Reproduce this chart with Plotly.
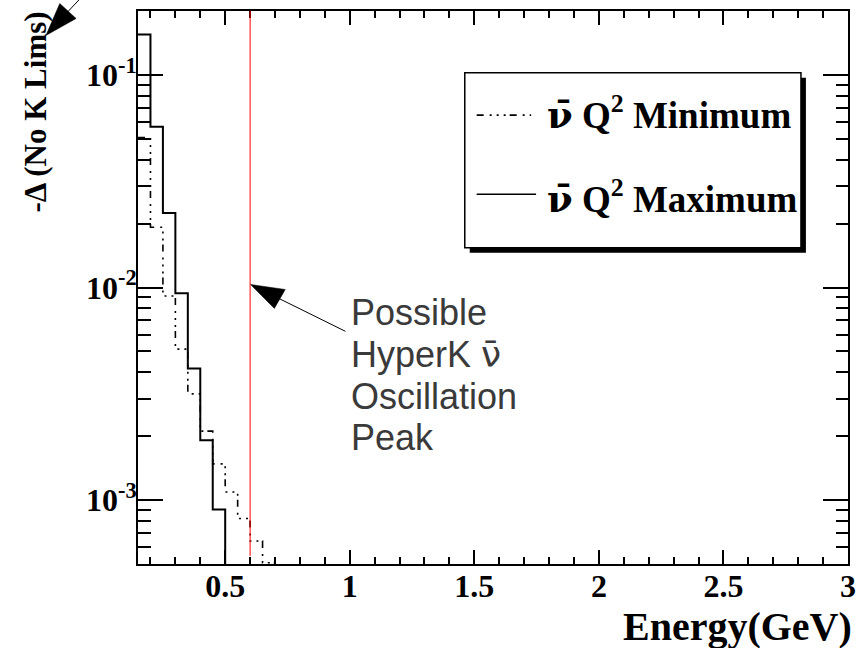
import numpy as np
import plotly.graph_objects as go

# ---------------- data ----------------
bin_edges = [0.15, 0.20, 0.25, 0.30, 0.35, 0.40, 0.45, 0.50, 0.55, 0.60, 0.65, 0.70]
q2_maximum = [0.155, 0.0570, 0.0224, 0.0094, 0.00416, 0.00191, 0.000903]
q2_minimum = [0.0508, 0.0192, 0.00912, 0.00513, 0.00316, 0.00211, 0.00148,
              0.00109, 0.000819, 0.000641, 0.000507]
floor_value = 1e-4          # histogram content below the visible range
peak_energy = 0.6           # possible HyperK anti-nu oscillation peak (GeV)

x_range = [0.15, 3.0]
y_range = [5e-4, 0.2]
x_tick_vals = [0.5, 1.0, 1.5, 2.0, 2.5, 3.0]
x_tick_text = ["0.5", "1", "1.5", "2", "2.5", "3"]
y_tick_vals = [1e-3, 1e-2, 1e-1]
y_tick_text = ["10<sup>-3</sup>", "10<sup>-2</sup>", "10<sup>-1</sup>"]
NUBAR_SERIF = "<span style='font-family:DejaVu Serif;font-weight:bold'>ν̄</span>"
NUBAR_SANS = "<span style='font-family:DejaVu Sans'>ν̄</span>"
legend_labels = [NUBAR_SERIF + "<b> Q<sup>2</sup> Minimum</b>",
                 NUBAR_SERIF + "<b> Q<sup>2</sup> Maximum</b>"]
note_lines = ["Possible", "HyperK " + NUBAR_SANS, "Oscillation", "Peak"]

# ---------------- geometry helpers (pixels -> paper) ----------------
W, H = 865, 648
PL, PR, PT, PB = 138, 855, 9, 564


def px(x):
    return (x - PL) / (PR - PL)


def py(y):
    return (PB - y) / (PB - PT)


def step(vals):
    xs = bin_edges[:len(vals) + 1]
    ys = list(vals) + [floor_value]
    return xs, ys


SERIF = "Liberation Serif, Times New Roman, serif"
SANS = "Liberation Sans, Arial, sans-serif"
DASHDOT = "7px,6px,2px,5px,2px,5px,2px,4px"

fig = go.Figure()
xs, ys = step(q2_minimum)
fig.add_trace(go.Scatter(x=xs, y=ys, mode="lines", line_shape="hv",
                         line=dict(color="black", width=1.6, dash=DASHDOT),
                         name="Q2 Minimum", showlegend=False))
xs, ys = step(q2_maximum)
fig.add_trace(go.Scatter(x=xs, y=ys, mode="lines", line_shape="hv",
                         line=dict(color="black", width=2),
                         name="Q2 Maximum", showlegend=False))

shapes = []
# red vertical line at the oscillation peak
shapes.append(dict(type="line", xref="x", yref="paper", x0=peak_energy, x1=peak_energy,
                   y0=py(556), y1=1, line=dict(color="red", width=1)))

# legend box with shadow
shapes.append(dict(type="rect", xref="paper", yref="paper",
                   x0=px(473), x1=px(812.5), y0=py(251.5), y1=py(76),
                   fillcolor="black", line=dict(color="black", width=0)))
shapes.append(dict(type="rect", xref="paper", yref="paper",
                   x0=px(468), x1=px(807.5), y0=py(246.5), y1=py(71),
                   fillcolor="white", line=dict(color="black", width=1.5)))
shapes.append(dict(type="line", xref="paper", yref="paper",
                   x0=px(480), x1=px(535), y0=py(113.5), y1=py(113.5),
                   line=dict(color="black", width=1.6, dash=DASHDOT)))
shapes.append(dict(type="line", xref="paper", yref="paper",
                   x0=px(480), x1=px(540), y0=py(193), y1=py(193),
                   line=dict(color="black", width=1.5)))

# arrow to the peak line
tip_x = PL + (peak_energy - x_range[0]) / (x_range[1] - x_range[0]) * (PR - PL)
tip = (tip_x + 0.5, 283.5)
shapes.append(dict(type="line", xref="paper", yref="paper",
                   x0=px(tip[0] + 20), y0=py(tip[1] + 9.8), x1=px(347.5), y1=py(330.5),
                   line=dict(color="black", width=1)))
shapes.append(dict(type="path", xref="paper", yref="paper",
                   path="M {} {} L {} {} L {} {} Z".format(
                       px(tip[0]), py(tip[1]), px(tip[0] + 35), py(tip[1] + 5),
                       px(tip[0] + 24), py(tip[1] + 24)),
                   fillcolor="black", line=dict(color="black", width=0.5)))

# stray arrow at top-left (points at the y title)
shapes.append(dict(type="line", xref="paper", yref="paper",
                   x0=px(65), y0=py(12), x1=px(100), y1=py(-25),
                   line=dict(color="black", width=1)))
shapes.append(dict(type="path", xref="paper", yref="paper",
                   path="M {} {} L {} {} L {} {} Z".format(
                       px(45), py(33.5), px(59), py(1.5), px(75.5), py(16.5)),
                   fillcolor="black", line=dict(color="black", width=0.5)))

annotations = [
    dict(text=legend_labels[0], xref="paper", yref="paper",
         x=px(549), y=py(111.5), xanchor="left", yanchor="middle", showarrow=False,
         font=dict(family=SERIF, size=37, color="black", weight="bold")),
    dict(text=legend_labels[1], xref="paper", yref="paper",
         x=px(549), y=py(196), xanchor="left", yanchor="middle", showarrow=False,
         font=dict(family=SERIF, size=37, color="black", weight="bold")),
    dict(text="Energy(GeV)", xref="paper", yref="paper",
         x=px(861), y=py(627), xanchor="right", yanchor="middle", showarrow=False,
         font=dict(family=SERIF, size=40, color="black", weight="bold")),
    dict(text="-Δ (No K Lims)", xref="paper", yref="paper", textangle=-90,
         x=px(34), y=py(8), xanchor="center", yanchor="top", showarrow=False,
         font=dict(family=SERIF, size=31, color="black", weight="bold")),
]
NOTE_FS = 36
note_baselines = [326, 368, 410, 452]
for line, base in zip(note_lines, note_baselines):
    annotations.append(dict(text=line, xref="paper", yref="paper",
                            x=px(351), y=py(base - 1.03 * NOTE_FS),
                            xanchor="left", yanchor="top", align="left", showarrow=False,
                            font=dict(family=SANS, size=NOTE_FS, color="#3a3a3a")))

axis_common = dict(showline=True, mirror="allticks", linecolor="black", linewidth=2,
                   ticks="inside", tickcolor="black", tickwidth=1.5,
                   showgrid=False, zeroline=False, ticklabelstandoff=-7,
                   tickfont=dict(family=SERIF, size=32, color="black", weight="bold"))

fig.update_layout(
    width=W, height=H, autosize=False,
    margin=dict(l=PL, r=W - PR, t=PT, b=H - PB),
    paper_bgcolor="white", plot_bgcolor="white",
    showlegend=False,
    xaxis=dict(range=x_range, tickmode="array", tickvals=x_tick_vals,
               ticktext=x_tick_text, ticklen=14,
               minor=dict(tick0=0, dtick=0.1, ticks="inside", ticklen=7,
                          tickwidth=1.5, tickcolor="black", showgrid=False),
               **axis_common),
    yaxis=dict(type="log", range=[np.log10(y_range[0]), np.log10(y_range[1])],
               tickmode="array", tickvals=y_tick_vals,
               ticktext=y_tick_text, ticklen=25,
               minor=dict(dtick="D1", ticks="inside", ticklen=12.5,
                          tickwidth=1.5, tickcolor="black", showgrid=False),
               **axis_common),
    shapes=shapes,
    annotations=annotations,
)

fig.write_html("out.html")
